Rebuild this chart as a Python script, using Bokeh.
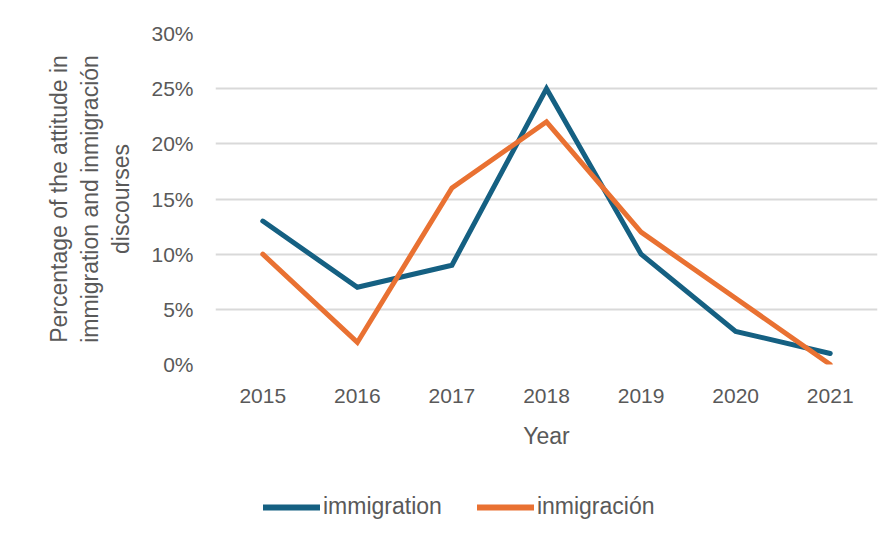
from bokeh.plotting import figure
from bokeh.layouts import column
from bokeh.models import FactorRange, Range1d, PrintfTickFormatter, Legend, LegendItem
from bokeh.embed import file_html
from bokeh.resources import INLINE

years = ["2015", "2016", "2017", "2018", "2019", "2020", "2021"]
immigration = [13, 7, 9, 25, 10, 3, 1]
inmigracion = [10, 2, 16, 22, 12, 6, 0]
y_ticks = [0, 5, 10, 15, 20, 25, 30]
series_names = ["immigration", "inmigración"]

FONT = "Liberation Sans"
TXT = "#595959"
BLUE = "#156082"
ORANGE = "#E97132"

p = figure(width=891, height=470, x_range=FactorRange(factors=years),
           y_range=Range1d(0, 30), output_backend="svg", toolbar_location=None,
           min_border_left=215, min_border_right=14, min_border_top=33, min_border_bottom=106)
p.outline_line_color = None
p.background_fill_color = "white"
p.border_fill_color = "white"

r1 = p.line(years, immigration, line_color=BLUE, line_width=5, line_join="miter", line_cap="round")
r2 = p.line(years, inmigracion, line_color=ORANGE, line_width=5, line_join="miter", line_cap="round")

p.xgrid.grid_line_color = None
p.ygrid.grid_line_color = "#d9d9d9"
p.ygrid.grid_line_width = 2

p.yaxis.ticker = y_ticks
p.yaxis.formatter = PrintfTickFormatter(format="%d%%")
for ax in (p.xaxis[0], p.yaxis[0]):
    ax.axis_line_color = None
    ax.major_tick_line_color = None
    ax.minor_tick_line_color = None
    ax.major_tick_out = 0
    ax.major_label_text_font = FONT
    ax.major_label_text_font_size = "21px"
    ax.major_label_text_color = TXT
    ax.axis_label_text_font = FONT
    ax.axis_label_text_font_size = "23px"
    ax.axis_label_text_color = TXT
    ax.axis_label_text_font_style = "normal"

p.yaxis.major_label_standoff = 22
p.yaxis.axis_label = "Percentage of the attitude in\nimmigration and inmigración\ndiscourses"
p.yaxis.axis_label_standoff = 14
p.yaxis.axis_label_text_align = "center"
p.xaxis.major_label_standoff = 24
p.xaxis.axis_label = "Year"
p.xaxis.axis_label_standoff = 17

# legend strip below the chart (its frame is aligned with the chart's frame)
p2 = figure(width=891, height=66, x_range=FactorRange(factors=years), y_range=Range1d(-200, -100),
            output_backend="svg", toolbar_location=None,
            min_border=0, min_border_left=0, min_border_right=0,
            min_border_top=0, min_border_bottom=0)
p2.axis.visible = False
p2.grid.grid_line_color = None
p2.outline_line_color = None
p2.background_fill_color = "white"
p2.border_fill_color = "white"
# same series, outside this strip's visible range: only their legend swatches show
l1 = p2.line(years, immigration, line_color=BLUE, line_width=6, line_cap="round")
l2 = p2.line(years, inmigracion, line_color=ORANGE, line_width=6, line_cap="round")

legend = Legend(items=[LegendItem(label=series_names[0], renderers=[l1]),
                       LegendItem(label=series_names[1], renderers=[l2])],
                orientation="horizontal", location=(48, 16),
                glyph_width=57, glyph_height=24, label_height=24,
                label_standoff=3, spacing=35, padding=0, margin=0,
                border_line_color=None, background_fill_alpha=0,
                label_text_font=FONT, label_text_font_size="23px", label_text_color=TXT)
p2.add_layout(legend, "center")

layout = column(p, p2, spacing=0)
open("out.html", "w").write(file_html(layout, INLINE))
